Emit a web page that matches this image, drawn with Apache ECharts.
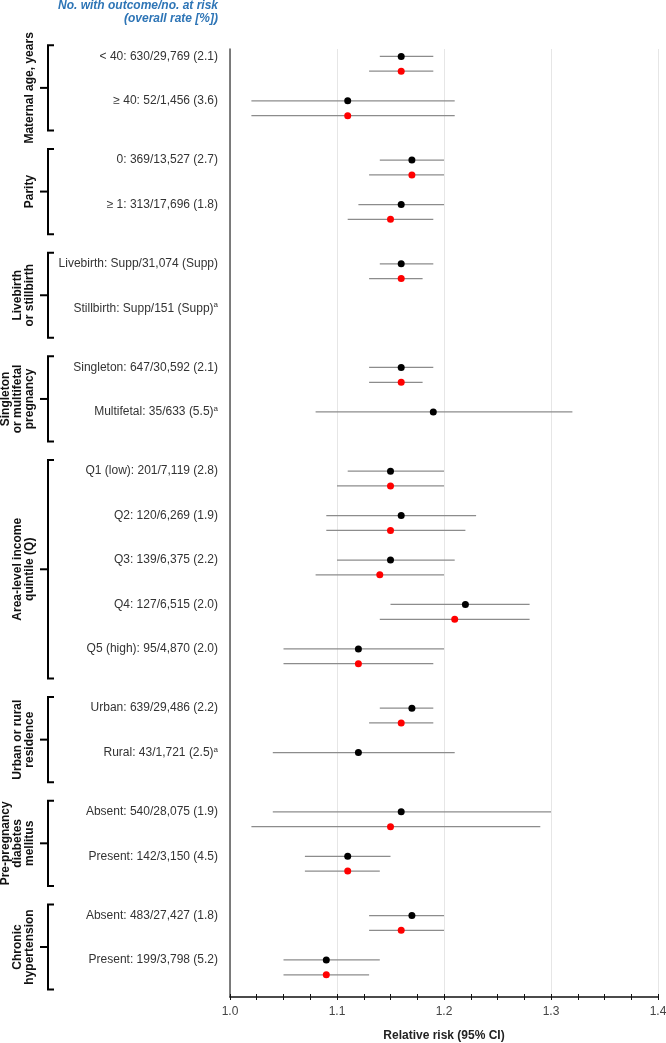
<!DOCTYPE html>
<html>
<head>
<meta charset="utf-8">
<script src="https://cdn.jsdelivr.net/npm/echarts@6/dist/echarts.min.js"></script>
<style>
html,body{margin:0;padding:0;background:#fff;}
#chart{width:666px;height:1043px;}
</style>
</head>
<body>
<div id="chart"></div>
<script>
// ---- data ----
const rowLabels = [
  "< 40: 630/29,769 (2.1)",
  "\u2265 40: 52/1,456 (3.6)",
  "0: 369/13,527 (2.7)",
  "\u2265 1: 313/17,696 (1.8)",
  "Livebirth: Supp/31,074 (Supp)",
  "Stillbirth: Supp/151 (Supp)",
  "Singleton: 647/30,592 (2.1)",
  "Multifetal: 35/633 (5.5)",
  "Q1 (low): 201/7,119 (2.8)",
  "Q2: 120/6,269 (1.9)",
  "Q3: 139/6,375 (2.2)",
  "Q4: 127/6,515 (2.0)",
  "Q5 (high): 95/4,870 (2.0)",
  "Urban: 639/29,486 (2.2)",
  "Rural: 43/1,721 (2.5)",
  "Absent: 540/28,075 (1.9)",
  "Present: 142/3,150 (4.5)",
  "Absent: 483/27,427 (1.8)",
  "Present: 199/3,798 (5.2)"
];
const rowFootnote = [0,0,0,0,0,1,0,1,0,0,0,0,0,0,1,0,0,0,0];
const groupNames = [
  "Maternal age, years",
  "Parity",
  "Livebirth\nor stillbirth",
  "Singleton\nor multifetal\npregnancy",
  "Area-level income\nquintile (Q)",
  "Urban or rural\nresidence",
  "Pre-pregnancy\ndiabetes\nmellitus",
  "Chronic\nhypertension"
];
const groupSizes = [2,2,2,2,5,2,2,2];
// black estimates
const rrBlack = [1.16,1.11,1.17,1.16,1.16,null,1.16,1.19,1.15,1.16,1.15,1.22,1.12,1.17,1.12,1.16,1.11,1.17,1.09];
const loBlack = [1.14,1.02,1.14,1.12,1.14,null,1.13,1.08,1.11,1.09,1.10,1.15,1.05,1.14,1.04,1.04,1.07,1.13,1.05];
const hiBlack = [1.19,1.21,1.20,1.20,1.19,null,1.19,1.32,1.20,1.23,1.21,1.28,1.20,1.19,1.21,1.30,1.15,1.20,1.14];
// red estimates
const rrRed = [1.16,1.11,1.17,1.15,1.16,null,1.16,null,1.15,1.15,1.14,1.21,1.12,1.16,null,1.15,1.11,1.16,1.09];
const loRed = [1.13,1.02,1.13,1.11,1.13,null,1.13,null,1.10,1.09,1.08,1.14,1.05,1.13,null,1.02,1.07,1.13,1.05];
const hiRed = [1.19,1.21,1.20,1.19,1.18,null,1.18,null,1.20,1.22,1.20,1.28,1.19,1.19,null,1.29,1.14,1.20,1.13];
const xTicks = [1.0,1.1,1.2,1.3,1.4];

// ---- layout slots (row index -> y value) ----
const rowY = [];
const groupSpan = [];
let slot = 0, r = 0;
groupSizes.forEach(function(n){
  const start = slot;
  for (let i=0;i<n;i++){ rowY[r++] = slot; slot += 3; }
  groupSpan.push([start, slot - 2]);
  slot += 1;
});

const ciBlack = [], ciRed = [], ptBlack = [], ptRed = [];
rowY.forEach(function(y,i){
  if (rrBlack[i] != null){ ciBlack.push([loBlack[i], hiBlack[i], y]); ptBlack.push([rrBlack[i], y]); }
  if (rrRed[i] != null){ ciRed.push([loRed[i], hiRed[i], y+1]); ptRed.push([rrRed[i], y+1]); }
});

function ciRender(color){
  return function(params, api){
    const a = api.coord([api.value(0), api.value(2)]);
    const b = api.coord([api.value(1), api.value(2)]);
    return {type:'line', shape:{x1:a[0], y1:a[1], x2:b[0], y2:b[1]},
      style:{stroke:color, lineWidth:1.3}};
  };
}

const GRID_TOP = 49, GRID_BOTTOM = 46, H = 1043;
const chart = echarts.init(document.getElementById('chart'), null, {renderer:'canvas'});
const FONT = 'Liberation Sans, Arial, sans-serif';
chart.setOption({
  animation:false,
  textStyle:{fontFamily:FONT},
  grid:{left:230, right:8, top:GRID_TOP, bottom:GRID_BOTTOM, containLabel:false, outerBoundsMode:'none'},
  xAxis:[{
    type:'value', min:1.0, max:1.4, interval:0.1, position:'bottom',
    axisLine:{show:true, onZero:false, lineStyle:{color:'#111', width:1.5}},
    axisTick:{show:true, length:3, lineStyle:{color:'#111', width:1}},
    minorTick:{show:true, splitNumber:4, length:3, lineStyle:{color:'#111', width:1}},
    axisLabel:{color:'#444', fontSize:12, margin:9, fontFamily:FONT,
      formatter:function(v){ return xTicks.find(function(t){return Math.abs(t-v)<1e-6;}).toFixed(1); }},
    splitLine:{show:true, lineStyle:{color:'#e6e6e6', width:1}},
    name:'Relative risk (95% CI)', nameLocation:'middle', nameGap:33,
    nameTextStyle:{fontWeight:'bold', fontSize:12, color:'#222', fontFamily:FONT}
  },{
    type:'value', min:1.0, max:1.4, interval:0.1, position:'top',
    offset: -(H - GRID_TOP - GRID_BOTTOM),
    axisLine:{show:false, onZero:false},
    axisTick:{show:true, length:3, lineStyle:{color:'#111', width:1}},
    minorTick:{show:true, splitNumber:4, length:3, lineStyle:{color:'#111', width:1}},
    axisLabel:{show:false}, splitLine:{show:false}
  }],
  yAxis:{
    type:'value', min:-0.5, max:63.5, inverse:true,
    axisLine:{show:true, lineStyle:{color:'#555', width:1.5}},
    axisTick:{show:false}, axisLabel:{show:false}, splitLine:{show:false}
  },
  graphic:[
    {type:'text', right:666-218, top:0, style:{text:'No. with outcome/no. at risk', align:'right',
      font:'italic bold 12px ' + FONT, fill:'#2E75B6'}},
    {type:'text', right:666-218, top:13, style:{text:'(overall rate [%])', align:'right',
      font:'italic bold 12px ' + FONT, fill:'#2E75B6'}}
  ],
  series:[
    {type:'custom', name:'ciBlack', data:ciBlack, encode:{x:[0,1], y:2}, renderItem:ciRender('#8c8c8c'), z:2, silent:true},
    {type:'custom', name:'ciRed', data:ciRed, encode:{x:[0,1], y:2}, renderItem:ciRender('#8c8c8c'), z:2, silent:true},
    {type:'scatter', name:'black', data:ptBlack, symbolSize:7, itemStyle:{color:'#000', opacity:1}, z:3, silent:true},
    {type:'scatter', name:'red', data:ptRed, symbolSize:7, itemStyle:{color:'#ff0000', opacity:1}, z:3, silent:true},
    {type:'custom', name:'labels', clip:false, silent:true,
      data: rowY.map(function(y){ return [1.0, y]; }), encode:{x:0, y:1},
      renderItem:function(params, api){
        const p = api.coord([api.value(0), api.value(1)]);
        const i = params.dataIndex;
        const txt = rowFootnote[i] ? '{n|' + rowLabels[i] + '}{s|a}' : '{n|' + rowLabels[i] + '}';
        return {type:'text', x:p[0]-12, y:p[1], style:{text:txt, align:'right', verticalAlign:'middle',
          rich:{n:{fontSize:12, fontFamily:FONT, fill:'#333', color:'#333'},
                s:{fontSize:8, fontFamily:FONT, fill:'#333', color:'#333', verticalAlign:'top', padding:[0,0,6,0]}}}};
      }},
    {type:'custom', name:'groups', clip:false, silent:true,
      data: groupSpan.map(function(s){ return [1.0, s[0]-0.75, s[1]+1]; }), encode:{x:0, y:[1,2]},
      renderItem:function(params, api){
        const top = api.coord([1.0, api.value(1)])[1];
        const bot = api.coord([1.0, api.value(2)])[1];
        const mid = (top+bot)/2;
        const name = groupNames[params.dataIndex];
        const nl = name.split('\n').length;
        const bx = 48;
        const ls = {stroke:'#000', lineWidth:2};
        return {type:'group', children:[
          {type:'polyline', shape:{points:[[bx+6,top],[bx,top],[bx,bot],[bx+6,bot]]}, style:Object.assign({fill:null},ls)},
          {type:'line', shape:{x1:bx-8, y1:mid, x2:bx, y2:mid}, style:ls},
          {type:'text', x:30 - (nl-1)*6, y:mid, rotation:Math.PI/2,
            style:{text:name, align:'center', verticalAlign:'middle', lineHeight:12,
              font:'bold 12px ' + FONT, fill:'#111'}}
        ]};
      }}
  ]
});
</script>
</body>
</html>
